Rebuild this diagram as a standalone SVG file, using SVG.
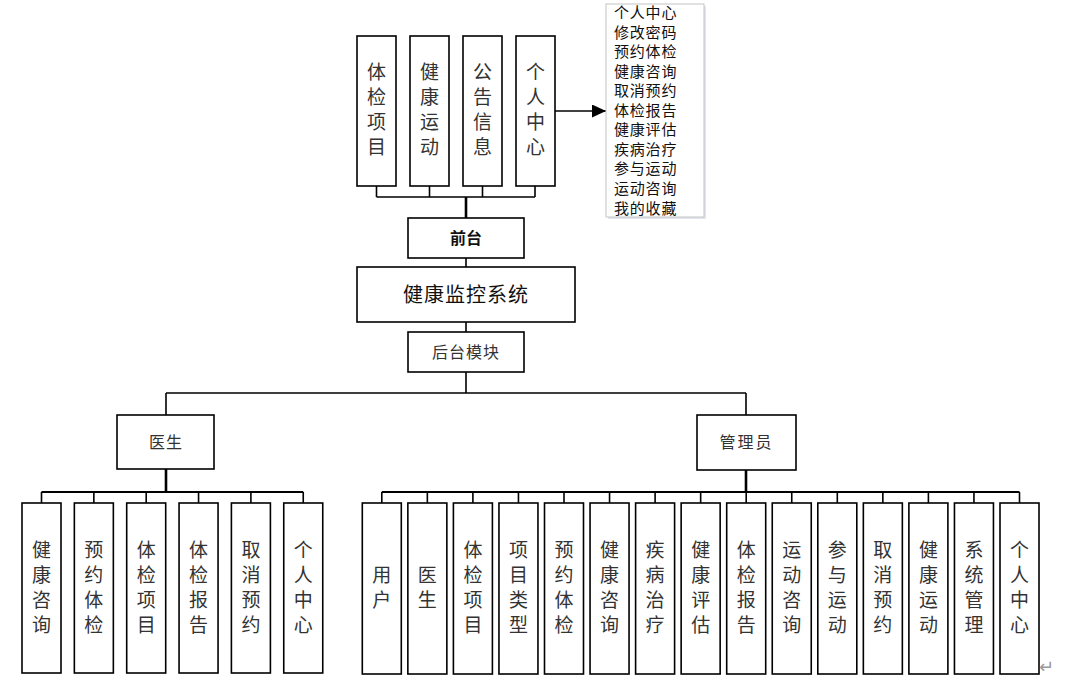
<svg xmlns="http://www.w3.org/2000/svg" width="1082" height="683" viewBox="0 0 1082 683">
<defs>
<style>
.box{fill:#fff;stroke:#000;stroke-width:1.6}
.ln{fill:none;stroke:#000;stroke-width:1.6}
.bus{fill:none;stroke:#000;stroke-width:2}
.thk{fill:none;stroke:#000;stroke-width:2.6}
.v{font-family:"Noto Sans CJK SC","Noto Sans",sans-serif;font-size:19px;fill:#333;text-anchor:middle}
.h{font-family:"Noto Sans CJK SC","Noto Sans",sans-serif;font-size:16px;fill:#333;text-anchor:middle}
.big{font-size:20px;fill:#111}
.bold{font-weight:bold;fill:#111}
.lst{font-family:"Noto Sans CJK SC","Noto Sans",sans-serif;font-size:15px;fill:#111;letter-spacing:0.8px}
</style>
<marker id="arr" markerWidth="14" markerHeight="13" refX="14" refY="6.5" orient="auto" markerUnits="userSpaceOnUse">
<path d="M0,0 L14,6.5 L0,13 Z" fill="#000"/>
</marker>
</defs>
<rect width="1082" height="683" fill="#fff"/>

<g id="connectors">
<path class="ln" d="M376.5,186V197M429.5,186V197M482.5,186V197M535,186V197M376.5,197H535"/>
<path class="thk" d="M466,197V218"/>
<path class="ln" d="M466,258V267M466,322V332"/>
<path class="ln" d="M555,111H606" marker-end="url(#arr)"/>
<path class="ln" d="M466,372V393M166,393H746M166,393V415M746,393V415"/>
<path class="thk" d="M166,469V492M746,470V492"/>
<path class="bus" d="M41.5,492H303.25"/>
<path class="ln" d="M41.5,492V503M93.85,492V503M146.2,492V503M198.55,492V503M250.9,492V503M303.25,492V503"/>
<path class="bus" d="M381.8,492H1019.5"/>
<path class="ln" d="M381.8,492V503M427.35,492V503M472.9,492V503M518.45,492V503M564,492V503M609.55,492V503M655.1,492V503M700.65,492V503M746.2,492V503M791.75,492V503M837.3,492V503M882.85,492V503M928.4,492V503M973.95,492V503M1019.5,492V503"/>
</g>

<g id="top-1"><rect class="box" x="357" y="36" width="39" height="150"/><text class="v"><tspan x="376.5" y="79">体</tspan><tspan x="376.5" dy="25">检</tspan><tspan x="376.5" dy="25">项</tspan><tspan x="376.5" dy="25">目</tspan></text></g>
<g id="top-2"><rect class="box" x="410" y="36" width="39" height="150"/><text class="v"><tspan x="429.5" y="79">健</tspan><tspan x="429.5" dy="25">康</tspan><tspan x="429.5" dy="25">运</tspan><tspan x="429.5" dy="25">动</tspan></text></g>
<g id="top-3"><rect class="box" x="463" y="36" width="39" height="150"/><text class="v"><tspan x="482.5" y="79">公</tspan><tspan x="482.5" dy="25">告</tspan><tspan x="482.5" dy="25">信</tspan><tspan x="482.5" dy="25">息</tspan></text></g>
<g id="top-4"><rect class="box" x="516" y="36" width="39" height="150"/><text class="v"><tspan x="535.5" y="79">个</tspan><tspan x="535.5" dy="25">人</tspan><tspan x="535.5" dy="25">中</tspan><tspan x="535.5" dy="25">心</tspan></text></g>

<g id="menu-list">
<rect x="608" y="6" width="98" height="213" fill="#dfe6ee"/>
<rect x="606" y="4" width="98" height="213" fill="#fff" stroke="#c4c4c4" stroke-width="1"/>
<text class="lst"><tspan x="614" y="18">个人中心</tspan><tspan x="614" dy="19.55">修改密码</tspan><tspan x="614" dy="19.55">预约体检</tspan><tspan x="614" dy="19.55">健康咨询</tspan><tspan x="614" dy="19.55">取消预约</tspan><tspan x="614" dy="19.55">体检报告</tspan><tspan x="614" dy="19.55">健康评估</tspan><tspan x="614" dy="19.55">疾病治疗</tspan><tspan x="614" dy="19.55">参与运动</tspan><tspan x="614" dy="19.55">运动咨询</tspan><tspan x="614" dy="19.55">我的收藏</tspan></text>
</g>

<g id="qiantai"><rect class="box" x="408" y="218" width="116" height="40"/><text class="h bold" x="466" y="244">前台</text></g>
<g id="system"><rect class="box" x="357" y="267" width="218" height="55"/><text class="h big" x="466" y="302" letter-spacing="1">健康监控系统</text></g>
<g id="houtai"><rect class="box" x="408" y="332" width="116" height="40"/><text class="h" x="466" y="358" letter-spacing="1">后台模块</text></g>

<g id="doctor"><rect class="box" x="117" y="415" width="97" height="54"/><text class="h" x="166" y="448" letter-spacing="1">医生</text></g>
<g id="admin"><rect class="box" x="697" y="415" width="99" height="55"/><text class="h" x="746.5" y="448" letter-spacing="2">管理员</text></g>

<g id="d1"><rect class="box" x="22" y="503" width="39" height="170"/><text class="v"><tspan x="41.5" y="557">健</tspan><tspan x="41.5" dy="25">康</tspan><tspan x="41.5" dy="25">咨</tspan><tspan x="41.5" dy="25">询</tspan></text></g>
<g id="d2"><rect class="box" x="74.35" y="503" width="39" height="170"/><text class="v"><tspan x="93.85" y="557">预</tspan><tspan x="93.85" dy="25">约</tspan><tspan x="93.85" dy="25">体</tspan><tspan x="93.85" dy="25">检</tspan></text></g>
<g id="d3"><rect class="box" x="126.7" y="503" width="39" height="170"/><text class="v"><tspan x="146.2" y="557">体</tspan><tspan x="146.2" dy="25">检</tspan><tspan x="146.2" dy="25">项</tspan><tspan x="146.2" dy="25">目</tspan></text></g>
<g id="d4"><rect class="box" x="179.05" y="503" width="39" height="170"/><text class="v"><tspan x="198.55" y="557">体</tspan><tspan x="198.55" dy="25">检</tspan><tspan x="198.55" dy="25">报</tspan><tspan x="198.55" dy="25">告</tspan></text></g>
<g id="d5"><rect class="box" x="231.4" y="503" width="39" height="170"/><text class="v"><tspan x="250.9" y="557">取</tspan><tspan x="250.9" dy="25">消</tspan><tspan x="250.9" dy="25">预</tspan><tspan x="250.9" dy="25">约</tspan></text></g>
<g id="d6"><rect class="box" x="283.75" y="503" width="39" height="170"/><text class="v"><tspan x="303.25" y="557">个</tspan><tspan x="303.25" dy="25">人</tspan><tspan x="303.25" dy="25">中</tspan><tspan x="303.25" dy="25">心</tspan></text></g>

<g id="a1"><rect class="box" x="362.3" y="503" width="39" height="171"/><text class="v"><tspan x="381.8" y="582">用</tspan><tspan x="381.8" dy="25">户</tspan></text></g>
<g id="a2"><rect class="box" x="407.85" y="503" width="39" height="171"/><text class="v"><tspan x="427.35" y="582">医</tspan><tspan x="427.35" dy="25">生</tspan></text></g>
<g id="a3"><rect class="box" x="453.4" y="503" width="39" height="171"/><text class="v"><tspan x="472.9" y="557">体</tspan><tspan x="472.9" dy="25">检</tspan><tspan x="472.9" dy="25">项</tspan><tspan x="472.9" dy="25">目</tspan></text></g>
<g id="a4"><rect class="box" x="498.95" y="503" width="39" height="171"/><text class="v"><tspan x="518.45" y="557">项</tspan><tspan x="518.45" dy="25">目</tspan><tspan x="518.45" dy="25">类</tspan><tspan x="518.45" dy="25">型</tspan></text></g>
<g id="a5"><rect class="box" x="544.5" y="503" width="39" height="171"/><text class="v"><tspan x="564" y="557">预</tspan><tspan x="564" dy="25">约</tspan><tspan x="564" dy="25">体</tspan><tspan x="564" dy="25">检</tspan></text></g>
<g id="a6"><rect class="box" x="590.05" y="503" width="39" height="171"/><text class="v"><tspan x="609.55" y="557">健</tspan><tspan x="609.55" dy="25">康</tspan><tspan x="609.55" dy="25">咨</tspan><tspan x="609.55" dy="25">询</tspan></text></g>
<g id="a7"><rect class="box" x="635.6" y="503" width="39" height="171"/><text class="v"><tspan x="655.1" y="557">疾</tspan><tspan x="655.1" dy="25">病</tspan><tspan x="655.1" dy="25">治</tspan><tspan x="655.1" dy="25">疗</tspan></text></g>
<g id="a8"><rect class="box" x="681.15" y="503" width="39" height="171"/><text class="v"><tspan x="700.65" y="557">健</tspan><tspan x="700.65" dy="25">康</tspan><tspan x="700.65" dy="25">评</tspan><tspan x="700.65" dy="25">估</tspan></text></g>
<g id="a9"><rect class="box" x="726.7" y="503" width="39" height="171"/><text class="v"><tspan x="746.2" y="557">体</tspan><tspan x="746.2" dy="25">检</tspan><tspan x="746.2" dy="25">报</tspan><tspan x="746.2" dy="25">告</tspan></text></g>
<g id="a10"><rect class="box" x="772.25" y="503" width="39" height="171"/><text class="v"><tspan x="791.75" y="557">运</tspan><tspan x="791.75" dy="25">动</tspan><tspan x="791.75" dy="25">咨</tspan><tspan x="791.75" dy="25">询</tspan></text></g>
<g id="a11"><rect class="box" x="817.8" y="503" width="39" height="171"/><text class="v"><tspan x="837.3" y="557">参</tspan><tspan x="837.3" dy="25">与</tspan><tspan x="837.3" dy="25">运</tspan><tspan x="837.3" dy="25">动</tspan></text></g>
<g id="a12"><rect class="box" x="863.35" y="503" width="39" height="171"/><text class="v"><tspan x="882.85" y="557">取</tspan><tspan x="882.85" dy="25">消</tspan><tspan x="882.85" dy="25">预</tspan><tspan x="882.85" dy="25">约</tspan></text></g>
<g id="a13"><rect class="box" x="908.9" y="503" width="39" height="171"/><text class="v"><tspan x="928.4" y="557">健</tspan><tspan x="928.4" dy="25">康</tspan><tspan x="928.4" dy="25">运</tspan><tspan x="928.4" dy="25">动</tspan></text></g>
<g id="a14"><rect class="box" x="954.45" y="503" width="39" height="171"/><text class="v"><tspan x="973.95" y="557">系</tspan><tspan x="973.95" dy="25">统</tspan><tspan x="973.95" dy="25">管</tspan><tspan x="973.95" dy="25">理</tspan></text></g>
<g id="a15"><rect class="box" x="1000" y="503" width="39" height="171"/><text class="v"><tspan x="1019.5" y="557">个</tspan><tspan x="1019.5" dy="25">人</tspan><tspan x="1019.5" dy="25">中</tspan><tspan x="1019.5" dy="25">心</tspan></text></g>

<text x="1039" y="673" font-family="DejaVu Sans,sans-serif" font-size="18" fill="#999">↵</text>
</svg>
